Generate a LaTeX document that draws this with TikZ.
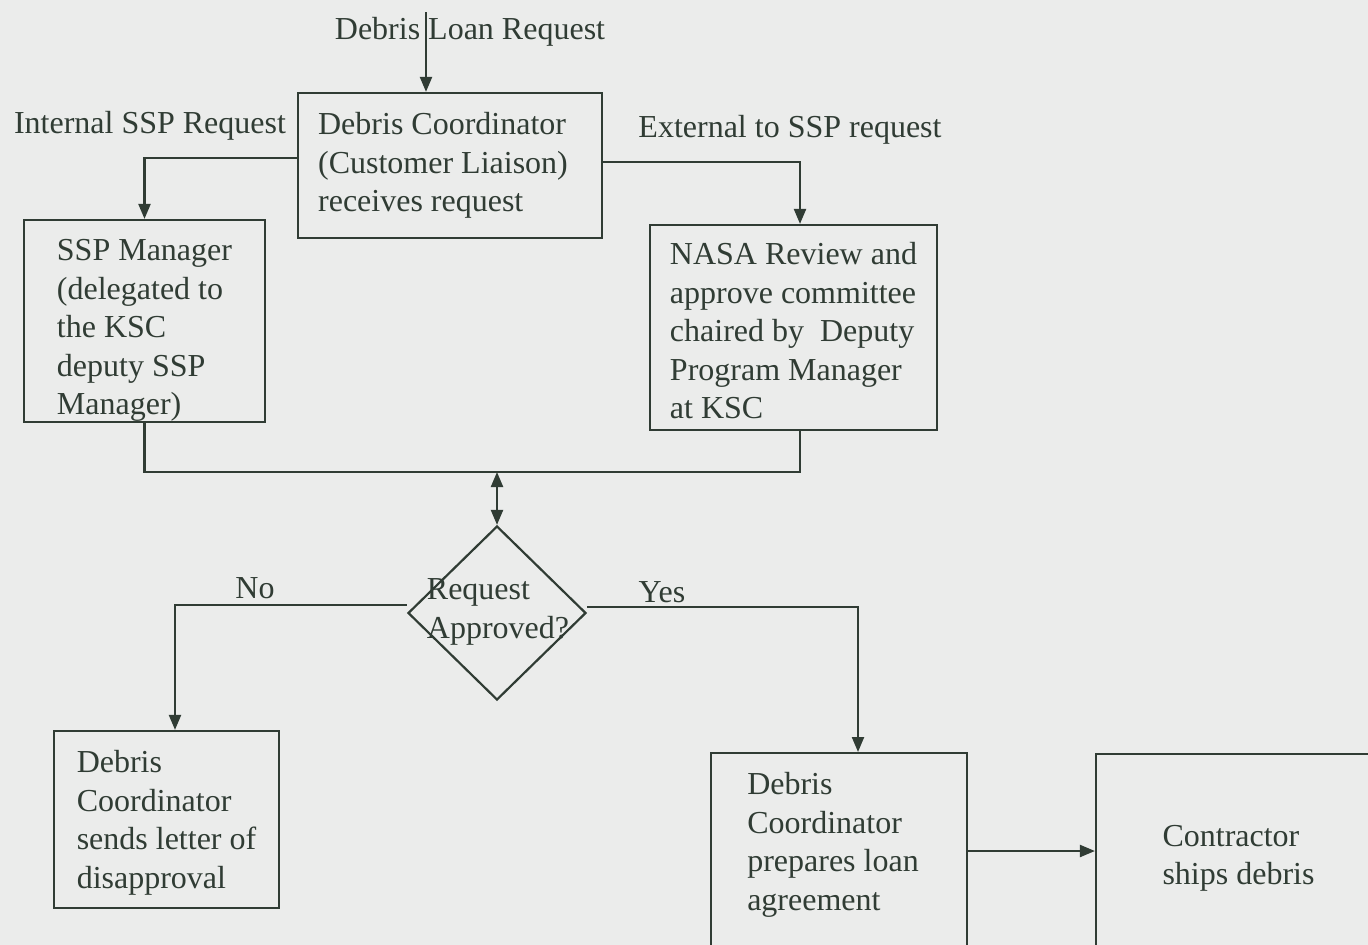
\documentclass[tikz,border=0pt]{standalone}
\usepackage{xcolor}
\usepackage{fontspec}
\setmainfont{Liberation Serif}
\usetikzlibrary{arrows.meta,shapes.geometric}
\definecolor{inkc}{RGB}{48,60,52}
\definecolor{paperc}{RGB}{235,236,235}

\begin{document}
\begin{tikzpicture}[x=1pt,y=1pt,yscale=-1,xscale=1,
    every node/.style={font=\fontsize{32}{38.5}\selectfont, text=inkc},
    box/.style={draw=inkc, line width=2.2pt, align=left, inner sep=0pt},
    lbl/.style={inner sep=0pt, align=left},
    wire/.style={draw=inkc, line width=2.2pt},
    flow/.style={wire, -{Triangle[length=15pt,width=12pt]}}]
        \useasboundingbox (0,0) rectangle (1368,945);
        \fill [paperc] (0,0) rectangle (1368,945);

        \node [box, minimum width=304pt, minimum height=145pt] (recv) at (450,165.5) {Debris Coordinator\\(Customer Liaison)\kern14pt\\receives request};
        \node [box, minimum width=241pt, minimum height=202pt] (ssp) at (144.5,321) {\rule{0pt}{40pt}SSP Manager\\(delegated to\\the KSC\\deputy SSP\\Manager)};
        \node [box, minimum width=287pt, minimum height=205pt] (nasa) at (793.5,327.5) {\rule{0pt}{29pt}NASA Review and\\approve committee\\chaired by\ \ Deputy\\Program Manager\\at KSC};
        \node [box, shape=diamond, minimum width=178pt, minimum height=174pt] (dec) at (497,613) {};
        \node [lbl] (dectext) at (498,612) {Request\\Approved?};
        \node [box, minimum width=225pt, minimum height=177pt] (disap) at (166.5,819.5) {\rule{0pt}{29pt}Debris\\Coordinator\\sends letter of\\disapproval};
        \node [box, minimum width=256pt, minimum height=240pt, anchor=north] (loan) at (839,752) {};
        \node [lbl] (loantext) at (833,845) {Debris\\Coordinator\\prepares loan\\agreement};
        \node [box, minimum width=285pt, minimum height=200pt] (ship) at (1238.5,854) {\rule{0pt}{30pt}Contractor\\ships debris};

        \node [lbl] (req) at (470,32) {Debris Loan Request};
        \node [lbl] (intl) at (150,126) {Internal SSP Request};
        \node [lbl] (extl) at (790,130) {External to SSP request};
        \node [lbl] (nol) at (255,588) {No};
        \node [lbl] (yesl) at (662,592) {Yes};

        \coordinate (src) at (426,12);
        \coordinate (join) at (497,472);

        \draw [flow] (src) -- (src |- recv.north);
        \draw [flow] ([yshift=-7.5pt]recv.west) -| (ssp.north);
        \draw [flow] ([yshift=-3.5pt]recv.east) -| ([xshift=6.5pt]nasa.north);
        \draw [wire] (ssp.south) |- (join) -| ([xshift=6.5pt]nasa.south);
        \draw [wire, {Triangle[length=15pt,width=12pt]}-{Triangle[length=15pt,width=12pt]}] (join) -- (dec.north);
        \draw [flow] ([yshift=-8pt]dec.west) -| ([xshift=8.5pt]disap.north);
        \draw [flow] ([yshift=-6pt]dec.east) -| ([xshift=19pt]loan.north);
        \draw [flow] (loan.east |- 0,851) -- (ship.west |- 0,851);
    \end{tikzpicture}
\end{document}
